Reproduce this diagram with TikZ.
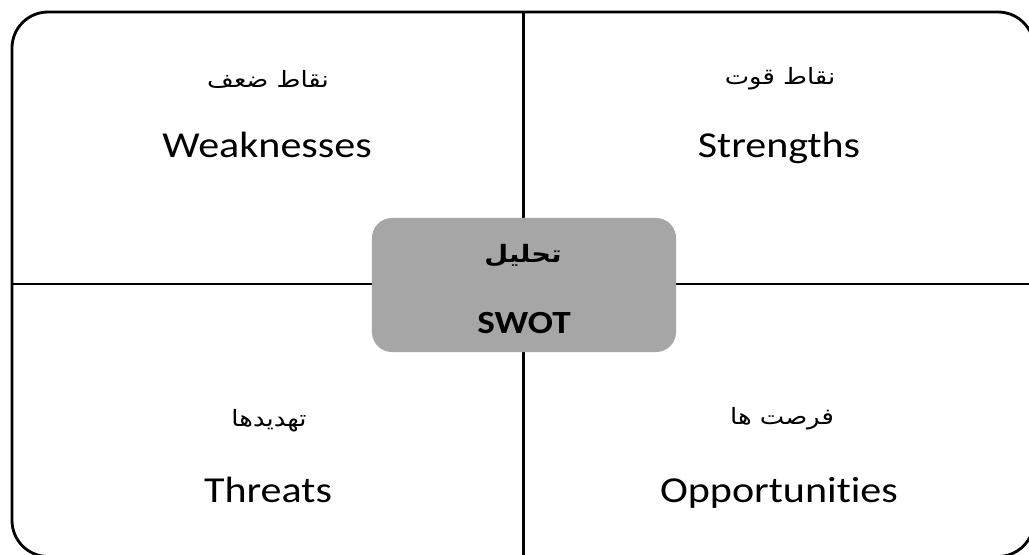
\documentclass[tikz,border=0pt]{standalone}
\usepackage{fontspec}
\setmainfont[Ligatures=NoCommon]{Carlito}
\newfontfamily\persianfont[Script=Arabic]{DejaVu Sans}
\TeXXeTstate=1
\definecolor{swotgray}{RGB}{166,166,166}
\newcommand{\widetext}[1]{\scalebox{1.15}[1]{#1}}
\tikzstyle{frameline}=[draw=black,line width=2pt]
\tikzstyle{englabel}=[anchor=base,inner sep=0pt,font=\fontsize{26}{30}\selectfont]
\tikzstyle{farsilabel}=[inner sep=0pt,font=\persianfont\fontsize{16}{20}\selectfont]
\tikzstyle{centerbox}=[fill=swotgray,rounded corners=0.5cm,minimum width=7.6cm,minimum height=3.35cm]

\begin{document}
\begin{tikzpicture}[x=0.025cm,y=-0.025cm]
  \useasboundingbox (0,0) rectangle (1029,554);
  \clip (0,0) rectangle (1029,554);
  % frame and cross
  \coordinate (ftl) at (12,12);
  \coordinate (fbr) at (1034,556.5);
  \coordinate (midleft) at (12,284);
  \coordinate (midright) at (1034,284);
  \coordinate (midtop) at (523.5,12);
  \coordinate (midbottom) at (523.5,556.5);
  \draw[frameline,rounded corners=0.9cm] (ftl) rectangle (fbr);
  \draw[frameline] (midleft) -- (midright);
  \draw[frameline] (midtop) -- (midbottom);

  \node[farsilabel] (weakfa) at (268,79) {\widetext{\beginR نقاط ضعف\endR}};
  \node[englabel] (weak) at (267,157) {\widetext{Weaknesses}};
  \node[farsilabel] (strongfa) at (780,79) {\widetext{\beginR نقاط قوت\endR}};
  \node[englabel] (strong) at (779,157) {\widetext{Strengths}};
  \node[farsilabel] (threatfa) at (269,421) {\widetext{\beginR تهدیدها\endR}};
  \node[englabel] (threat) at (268,502) {\widetext{Threats}};
  \node[farsilabel] (oppfa) at (782,419) {\widetext{\beginR فرصت ها\endR}};
  \node[englabel] (opp) at (779,502) {\widetext{Opportunities}};

  % center box
  \node[centerbox] (swotbox) at (524,285) {};
  \node[farsilabel,font=\persianfont\bfseries\fontsize{17}{20}\selectfont] (swotfa) at (523,256) {\widetext{\beginR تحلیل\endR}};
  \node[englabel,font=\bfseries\fontsize{23}{27}\selectfont] (swoten) at (524,333) {\widetext{SWOT}};
\end{tikzpicture}
\end{document}
